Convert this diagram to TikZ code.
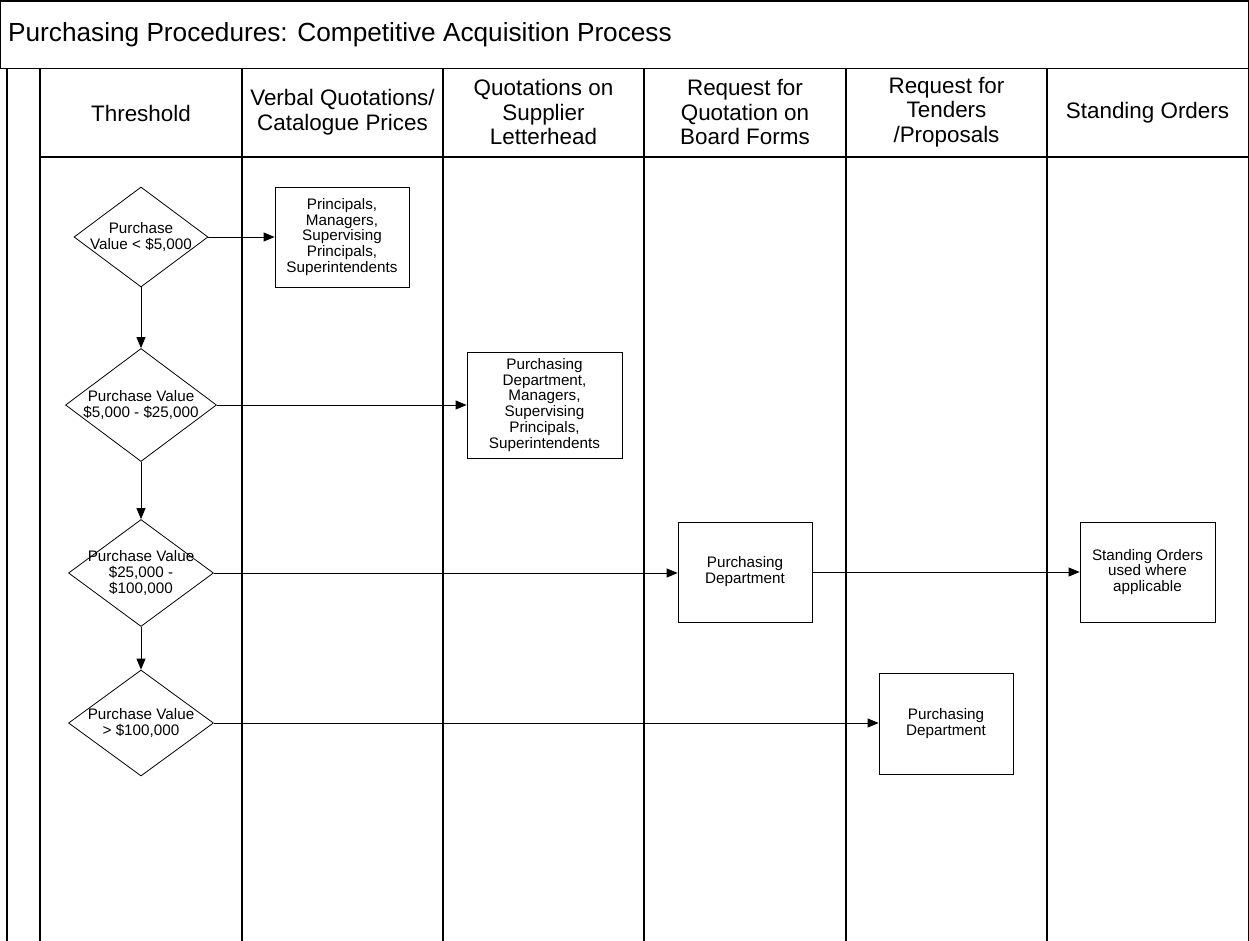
\documentclass[tikz,border=0pt]{standalone}
\usepackage{fontspec}
\setmainfont{Liberation Sans}
\usetikzlibrary{shapes.geometric,arrows.meta}
\begin{document}
\begin{tikzpicture}[x=1bp,y=-1bp,
  lane/.style={line width=1.2bp},
  dia/.style={draw, shape=diamond, inner sep=0pt, line width=0.8bp},
  box/.style={draw, rectangle, line width=0.8bp, align=center, font=\fontsize{15.3}{16}\selectfont, inner sep=0pt},
  small/.style={font=\fontsize{15.3}{16}\selectfont, align=center},
  head/.style={font=\fontsize{22.5}{24.5}\selectfont, align=center},
  arr/.style={-{Triangle[length=11bp,width=9bp]}, line width=0.8bp}
]
\useasboundingbox (0,0) rectangle (1249,941);
% title box
\draw[lane] (0.6,1) rectangle (1248.4,68.5);
\node[anchor=west, font=\fontsize{26.3}{28}\selectfont, inner sep=0pt] (title) at (8,35) {Purchasing Procedures: Competitive Acquisition Process};
% pool
\draw[lane] (7,69) -- (7,941);
\draw[lane] (40,69) -- (40,941);
\foreach \x in {242,443,644,846,1047} \draw[lane] (\x,69) -- (\x,941);
\draw[lane] (1248.4,69) -- (1248.4,941);
\draw[lane] (40,157) -- (1248.4,157);
% headers
\node[head] (h1) at (141,113) {Threshold};
\node[head] (h2) at (342.5,112) {Verbal Quotations/\\Catalogue Prices};
\node[head] (h3) at (543.5,112) {Quotations on\\Supplier\\Letterhead};
\node[head] (h4) at (745,112) {Request for\\Quotation on\\Board Forms};
\node[head] (h5) at (946.5,112) {Request for\\Tenders\\/Proposals};
\node[head] (h6) at (1147.5,113) {Standing Orders};
% diamonds
\node[dia, minimum width=134bp, minimum height=100bp,
  label={[small]center:{Purchase\\Value {<} \$5,000}}] (d1) at (141,237) {};
\node[dia, minimum width=151bp, minimum height=113bp,
  label={[small]center:{Purchase Value\\\$5,000 - \$25,000}}] (d2) at (141,405) {};
\node[dia, minimum width=145bp, minimum height=107bp,
  label={[small]center:{Purchase Value\\\$25,000 -\\\$100,000}}] (d3) at (141,573) {};
\node[dia, minimum width=145bp, minimum height=106bp,
  label={[small]center:{Purchase Value\\{>} \$100,000}}] (d4) at (141,723) {};
% boxes
\node[box, minimum width=134bp, minimum height=100bp] (b1) at (342,237) {Principals,\\Managers,\\Supervising\\Principals,\\Superintendents};
\node[box, minimum width=155bp, minimum height=106bp] (b2) at (544.5,405) {Purchasing\\Department,\\Managers,\\Supervising\\Principals,\\Superintendents};
\node[box, minimum width=134bp, minimum height=100bp] (b3) at (745,572) {Purchasing\\Department};
\node[box, minimum width=135bp, minimum height=100bp] (b4) at (1147.5,572) {Standing Orders\\used where\\applicable};
\node[box, minimum width=134bp, minimum height=101bp] (b5) at (946,723.5) {Purchasing\\Department};
% connectors
\draw[arr] (d1) -- (b1);
\draw[arr] (d2) -- (b2);
\draw[arr] (d3.east) -- (d3.east -| b3.west);
\draw[arr] (b3) -- (b4);
\draw[arr] (d4.east) -- (d4.east -| b5.west);
\draw[arr] (d1) -- (d2);
\draw[arr] (d2) -- (d3);
\draw[arr] (d3) -- (d4);
\end{tikzpicture}
\end{document}
